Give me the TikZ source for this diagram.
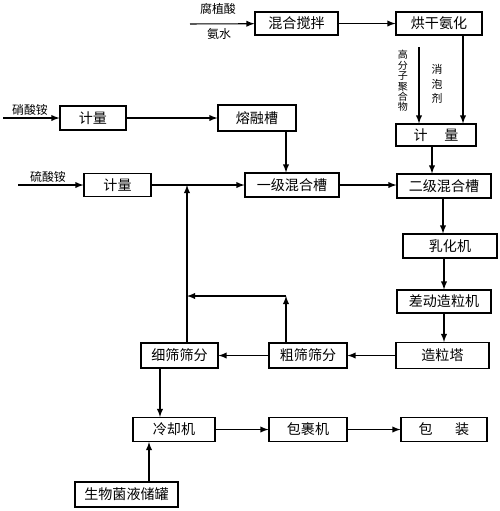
\documentclass[tikz,border=0pt]{standalone}
\usepackage{fontspec}
\newfontfamily\cjk{Noto Sans CJK SC}
\tikzset{box/.style={draw, line width=0.6pt, inner sep=0pt,
   font=\cjk\fontsize{8}{9}\selectfont},
 sz/.style 2 args={minimum width=#1*0.02cm, minimum height=#2*0.02cm},
 flow/.style={-latex, line width=0.6pt},
 lbl/.style={inner sep=0pt, font=\cjk\fontsize{6.8}{8}\selectfont},
 vlbl/.style={inner sep=0pt, align=center, font=\cjk\fontsize{5.7}{5.9}\selectfont},
 vlblwide/.style={inner sep=0pt, align=center, font=\cjk\fontsize{6.2}{8.2}\selectfont},
 }

\begin{document}
\begin{tikzpicture}[x=0.02cm, y=-0.02cm]
        \useasboundingbox (0,0) rectangle (500,511);
        % process boxes
        \node[box, sz={83}{23}] (mix) at (296.5,23.5) {混合搅拌};
        \node[box, sz={86}{23}] (dry) at (439,23.5) {烘干氨化};
        \node[box, sz={80}{22}] (meterA) at (436,135) {计\hspace{1.2em}量};
        \node[box, sz={66}{24}] (meterN) at (93,118) {计量};
        \node[box, sz={78}{26}] (melt) at (257,118) {熔融槽};
        \node[box, sz={94}{24}] (tankA) at (292,185) {一级混合槽};
        \node[box, sz={67}{23}] (meterS) at (117.5,185) {计量};
        \node[box, sz={94}{24}] (tankB) at (444,186) {二级混合槽};
        \node[box, sz={94}{24}] (emul) at (450,246) {乳化机};
        \node[box, sz={94}{23}] (gran) at (444,301.5) {差动造粒机};
        \node[box, sz={93}{26}] (tower) at (442.5,355.5) {造粒塔};
        \node[box, sz={78}{25}] (coarse) at (308,355.5) {粗筛筛分};
        \node[box, sz={77}{25}] (fine) at (179.5,355.5) {细筛筛分};
        \node[box, sz={82}{24}] (cool) at (174,429.5) {冷却机};
        \node[box, sz={78}{24}] (wrap) at (308,429.5) {包裹机};
        \node[box, sz={86}{24}] (pack) at (444,429.5) {包\hspace{1.6em}装};
        \node[box, sz={103}{25}] (store) at (126.5,494.5) {生物菌液储罐};
        % inputs
        \node[lbl] (humic) at (218,9) {腐植酸};
        \node[lbl] (ammonia) at (219,34) {氨水};
        \node[lbl] (nitrate) at (30,110) {硝酸铵};
        \node[lbl] (sulfate) at (48,177) {硫酸铵};
        \node[vlbl] (polymer) at (403,81) {高\\分\\子\\聚\\合\\物};
        \node[vlblwide] (defoam) at (437,84) {消\\泡\\剂};
        \coordinate (inH) at (190,24);
        \coordinate (inN) at (3,118);
        \coordinate (inS) at (18,185);
        \coordinate (polyTop) at (419,47);
        \coordinate (join) at (187,185);
        \coordinate (turn) at (286,296);
        \coordinate (back) at (187,296);
        % flows
        \draw[flow] (inH) -- (mix);
        \draw[flow] (mix) -- (dry);
        \draw[flow] (dry.south -| 463,0) -- (463,0 |- meterA.north);
        \draw[flow] (polyTop) -- (polyTop |- meterA.north);
        \draw[flow] (meterA.south -| 432,0) -- (432,0 |- tankB.north);
        \draw[flow] (inN) -- (meterN);
        \draw[flow] (meterN) -- (melt);
        \draw[flow] (melt.south -| 286,0) -- (286,0 |- tankA.north);
        \draw[flow] (inS) -- (meterS);
        \draw[flow] (meterS) -- (tankA);
        \draw[flow] (tankA.east) -- (tankA.east -| tankB.west);
        \draw[flow] (tankB.south -| 443,0) -- (443,0 |- emul.north);
        \draw[flow] (emul.south -| 444,0) -- (444,0 |- gran.north);
        \draw[flow] (gran.south -| 444,0) -- (444,0 |- tower.north);
        \draw[flow] (tower) -- (coarse);
        \draw[flow] (coarse) -- (fine);
        \draw[flow] (coarse.north -| turn) -- (turn);
        \draw[flow] (turn) -- (back);
        \draw[flow] (fine.north -| join) -- (join);
        \draw[flow] (fine.south -| 160,0) -- (160,0 |- cool.north);
        \draw[flow] (cool) -- (wrap);
        \draw[flow] (wrap) -- (pack);
        \draw[flow] (store.north -| 149,0) -- (149,0 |- cool.south);
    \end{tikzpicture}
\end{document}
